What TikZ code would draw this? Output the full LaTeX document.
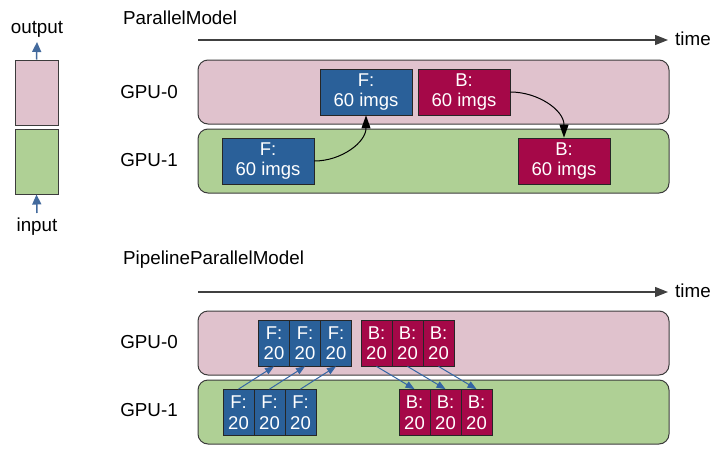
\documentclass[tikz,border=0pt]{standalone}
\usepackage{fontspec}
\setmainfont{Liberation Sans}
\usetikzlibrary{arrows.meta}
\definecolor{bandpink}{RGB}{224,194,205}
\definecolor{bandgreen}{RGB}{175,208,149}
\definecolor{blkblue}{RGB}{42,96,153}
\definecolor{blkred}{RGB}{165,8,72}
\definecolor{arrblue}{RGB}{52,101,164}
\definecolor{edgegray}{RGB}{60,60,60}
\begin{document}
\begin{tikzpicture}[x=1pt,y=-1pt,
  txt/.style={font=\fontsize{18.8}{21}\selectfont, inner sep=0pt, text=black},
  band/.style={draw=edgegray, line width=1pt, rounded corners=10pt},
  legbox/.style={draw=edgegray, line width=1pt},
  blk/.style={draw=black!85, line width=0.8pt, text=white, align=center, inner sep=0pt,
    font=\fontsize{18.5}{20.5}\selectfont},
  bigF/.style={blk, fill=blkblue, minimum width=92pt, minimum height=46pt},
  bigB/.style={blk, fill=blkred, minimum width=92pt, minimum height=46pt},
  smF/.style={blk, fill=blkblue, minimum width=31pt, minimum height=46pt},
  smB/.style={blk, fill=blkred, minimum width=31pt, minimum height=46pt},
  timeline/.style={draw=black!75, line width=1.2pt, -{Triangle[length=13pt,width=10pt]}},
  curvearr/.style={draw=black, line width=1pt, -{Triangle[length=13pt,width=9pt]}},
  blarr/.style={draw=arrblue, line width=1pt, -{Triangle[length=9pt,width=7pt]}},
  legarr/.style={draw=arrblue!80!gray, line width=1.5pt, -{Triangle[length=10pt,width=9pt]}}
]
\useasboundingbox (0,0) rectangle (720,461);

% legend
\node[legbox, fill=bandpink, minimum width=43pt, minimum height=65pt, inner sep=0pt] (lp) at (36.5,92.5) {};
\node[legbox, fill=bandgreen, minimum width=43pt, minimum height=65pt, inner sep=0pt] (lg) at (36.5,161.5) {};
\node[txt] (out) at (37,29) {output};
\node[txt] (inp) at (37,227) {input};
\coordinate (outtip) at (37,42);
\coordinate (inbase) at (37,213);
\draw[legarr] (lp.north) -- (outtip);
\draw[legarr] (inbase) -- (lg.south);

% ---------- ParallelModel ----------
\node[txt, anchor=west] (t1) at (123,18) {ParallelModel};
\coordinate (tl1s) at (198,40);
\coordinate (tl1e) at (668,40);
\draw[timeline] (tl1s) -- (tl1e);
\node[txt, anchor=west] (time1) at (675,39) {time};

\node[band, fill=bandpink, minimum width=471pt, minimum height=64pt] (b10) at (433.5,92) {};
\node[band, fill=bandgreen, minimum width=471pt, minimum height=64pt] (b11) at (433.5,161) {};
\node[txt] (g10) at (149,92) {GPU-0};
\node[txt] (g11) at (149,160) {GPU-1};

\node[bigF] (F0) at (366,92) {F:\\60 imgs};
\node[bigB] (B0) at (464,92) {B:\\60 imgs};
\node[bigF] (F1) at (268,161) {F:\\60 imgs};
\node[bigB] (B1) at (564,161) {B:\\60 imgs};

\draw[curvearr] (F1.east) to[out=0,in=-90] (F0.south);
\draw[curvearr] (B0.east) to[out=0,in=90] (B1.north);

% ---------- PipelineParallelModel ----------
\node[txt, anchor=west] (t2) at (123,260) {PipelineParallelModel};
\coordinate (tl2s) at (198,292);
\coordinate (tl2e) at (668,292);
\draw[timeline] (tl2s) -- (tl2e);
\node[txt, anchor=west] (time2) at (675,291) {time};

\node[band, fill=bandpink, minimum width=471pt, minimum height=64pt] (b20) at (433.5,343) {};
\node[band, fill=bandgreen, minimum width=471pt, minimum height=64pt] (b21) at (433.5,412) {};
\node[txt] (g20) at (149,342) {GPU-0};
\node[txt] (g21) at (149,410) {GPU-1};

\node[smF] (f0a) at (274,343) {F:\\20};
\node[smF] (f0b) at (305,343) {F:\\20};
\node[smF] (f0c) at (336,343) {F:\\20};
\node[smB] (b0a) at (376.5,343) {B:\\20};
\node[smB] (b0b) at (407.5,343) {B:\\20};
\node[smB] (b0c) at (438.5,343) {B:\\20};
\node[smF] (f1a) at (238.5,412.5) {F:\\20};
\node[smF] (f1b) at (269.5,412.5) {F:\\20};
\node[smF] (f1c) at (300.5,412.5) {F:\\20};
\node[smB] (b1a) at (414.5,412.5) {B:\\20};
\node[smB] (b1b) at (445.5,412.5) {B:\\20};
\node[smB] (b1c) at (476.5,412.5) {B:\\20};

\draw[blarr] (f1a.north) -- (f0a.south);
\draw[blarr] (f1b.north) -- (f0b.south);
\draw[blarr] (f1c.north) -- (f0c.south);
\draw[blarr] (b0a.south) -- (b1a.north);
\draw[blarr] (b0b.south) -- (b1b.north);
\draw[blarr] (b0c.south) -- (b1c.north);
\end{tikzpicture}
\end{document}
